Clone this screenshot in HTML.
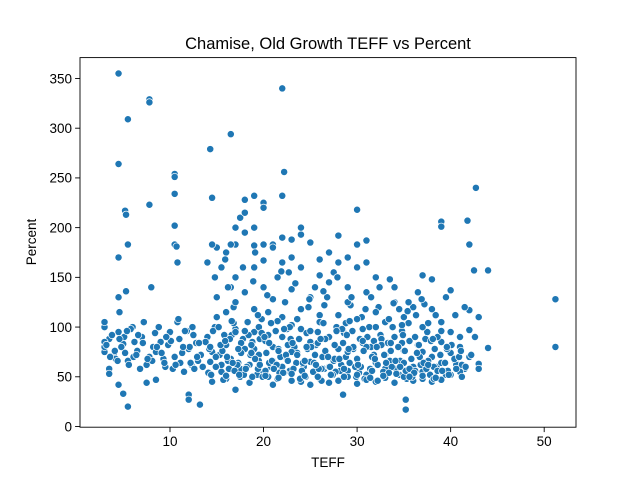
<!DOCTYPE html>
<html><head><meta charset="utf-8"><style>
body{margin:0;background:#fff;}
svg{display:block;font-family:"Liberation Sans","DejaVu Sans",sans-serif;}
</style></head><body>
<svg id="chart" width="640" height="480">
<rect x="0" y="0" width="640" height="480" fill="#fff"/>
<text x="328" y="49" font-size="16.5" text-anchor="middle">Chamise, Old Growth TEFF vs Percent</text>
<g id="marks"></g>
<g id="xticks"></g>
<g id="yticks"></g>
<rect x="80" y="57.6" width="496" height="369.6" fill="none" stroke="#000" stroke-width="0.9"/>
<text x="328" y="467" font-size="13.5" text-anchor="middle">TEFF</text>
<text x="0" y="0" font-size="13.5" text-anchor="middle" transform="translate(36,242) rotate(-90)">Percent</text>
</svg>
<script>
const teff = [
3,3.5,4,4.5,5,5.5,6,6.5,7,7.5,
3.8,4.2,4.8,5.2,5.8,6.2,6.8,7.2,7.8,8.2,
8.5,9,9.5,10,10.5,11,11.5,12,12.5,13,
8.8,9.3,9.8,10.3,10.8,11.3,11.8,12.3,12.8,13.3,
13.5,14,14.5,15,15.5,16,16.5,17,17.5,18,
13.8,14.3,14.8,15.3,15.8,16.3,16.8,17.3,17.8,18.3,
18.5,19,19.5,20,20.5,21,21.5,22,22.5,23,
18.8,19.3,19.8,20.3,20.8,21.3,21.8,22.3,22.8,23.3,
23.5,24,24.5,25,25.5,26,26.5,27,27.5,28,
23.8,24.3,24.8,25.3,25.8,26.3,26.8,27.3,27.8,28.3,
28.5,29,29.5,30,30.5,31,31.5,32,32.5,33,
28.8,29.3,29.8,30.3,30.8,31.3,31.8,32.3,32.8,33.3,
33.5,34,34.5,35,35.5,36,36.5,37,37.5,38,
33.8,34.3,34.8,35.3,35.8,36.3,36.8,37.3,37.8,38.3,
38.5,39,39.5,40,40.5,41,41.5,42,16.5,21.5,
14.5,15.5,16,17.5,18.5,19.5,20.5,21,22,23,
24,25,26,27,28,29,30,31,32,33,
34,35,36,37,38,39,40,41,25.5,26.5,
15,16,17,18,19,20,21,22,23,24,
25,26,27,28,29,30,31,32,33,34,
35,36,37,38,39,40,19.5,20.5,21.5,22.5,
15.6,16.6,17.6,18.6,19.6,20.6,21.6,22.6,23.6,24.6,
25.6,26.6,27.6,28.6,29.6,30.6,31.6,32.6,33.6,34.6,
35.6,36.6,37.6,38.6,39.6,40.6,18.2,20.2,22.2,24.2,
26.2,28.2,30.2,32.2,34.2,36.2,38.2,16.2,14.2,12.2,
17,19,21,23,25,27,29,31,33,35,
37,39,41,16.8,19.8,22.8,25.8,28.8,31.8,34.8,
4.5,7.8,7.8,22,5.5,16.5,14.3,4.5,10.5,10.5,
22.2,42.7,10.5,14.5,22,19,18,5.2,5.3,7.8,
10.5,17.5,20,20,30,41.8,39,39,5.5,10.5,
10.7,4.5,10.8,8,5.3,42,42.5,44,51.2,51.2,
35.2,35.2,28.5,13.2,12,12,5.5,5,4.5,7.5,
8.5,17,4.6,4.5,3,3,3,3,3,3.5,
3.5,37,38,40,37.2,42,43,42,42.6,44,
43,43,33.5,34,31,30,28,27,29,25,
24,24,23,22,21,20,19,17,16.5,15,
14.5,14,15.5,16,18,19,18,17,21,22,
26,28,30,31,32,29,26,24,23,20,
19,17,27.5,31.5,35.5,36.5,34.5,39.5,40.5,41.5,
14.1,14.9,15.7,16.4,17.2,17.9,18.7,19.4,20.2,20.9,
21.7,22.4,23.2,23.9,24.7,25.4,26.2,26.9,27.7,28.4,
29.2,29.9,30.7,31.4,32.2,32.9,33.7,34.4,35.2,35.9,
36.7,37.4,38.2,38.9,39.7,40.4,41.2,14.6,15.4,16.1,
16.9,17.6,18.4,19.1,19.9,20.6,21.4,22.1,22.9,23.6,
24.4,25.1,25.9,26.6,27.4,28.1,28.9,29.6,30.4,31.1,
31.9,32.6,33.4,34.1,34.9,35.6,36.4,37.1,37.9,38.6,
39.4,40.1,40.9,41.6,14.9,16.7,18.1,19.6,21.1,22.6,
24.1,25.6,27.1,28.6,30.1,31.6,33.1,34.6,36.1,37.6,
39.1,40.6,15.2,16.6,18.0,19.4,20.8,22.2,23.6,25.0,
26.4,27.8,29.2,30.6,32.0,33.4,34.8,36.2,37.6,39.0,
14.4,16.0,17.4,18.8,20.2,21.6,23.0,24.4,25.8,27.2,
28.6,30.0,31.4,32.8,34.2,35.6,37.0,38.4,39.8,41.2,
3.2,4.1,5.1,6.1,7.1,8.1,9.1,10.1,11.1,12.1,
3.6,4.6,5.6,6.6,7.6,8.6,9.6,10.6,11.6,12.6,
13.1,12.4,11.4,9.4,8.4,6.4,5.4,4.4,10.9,12.9,
14.8,16.2,17.8,18.9,20.4,21.9,23.4,24.9,26.4,27.9,
29.4,30.9,32.4,33.9,35.4,36.9,38.4,15.9,19.1,22.7,
14.3,15.9,17.3,18.7,20.1,21.6,23.1,24.6,26.1,27.6,
29.1,30.6,32.1,33.6,35.1,36.6,38.1,39.6,41.1,42.2
];
const percent = [
78,88,72,95,83,66,100,76,90,62,
92,68,80,74,98,85,58,105,70,80,
75,85,60,95,70,88,55,78,92,66,
100,68,82,58,105,74,96,62,84,72,
60,90,75,110,55,82,68,98,50,78,
85,65,100,72,92,58,120,64,88,105,
62,95,72,55,115,80,48,90,68,102,
85,52,108,74,60,96,70,125,56,80,
64,98,50,85,72,112,58,90,66,78,
88,60,120,55,95,70,130,52,100,62,
84,56,96,68,110,52,80,64,92,58,
70,122,60,88,48,100,72,120,55,84,
66,90,52,76,104,60,82,55,95,70,
100,58,84,48,68,112,62,88,52,78,
60,85,52,74,66,80,58,70,140,150,
45,62,48,58,44,66,50,42,60,46,
45,42,48,44,46,50,43,47,45,49,
44,50,46,48,45,47,52,55,140,122,
130,115,125,135,118,140,128,110,138,118,
130,105,145,112,125,108,135,115,105,125,
110,120,100,118,105,95,100,92,106,98,
76,92,84,72,88,64,78,82,74,94,
82,76,68,94,78,84,70,88,76,66,
86,74,66,90,78,62,60,56,54,64,
58,56,54,62,58,56,60,66,78,64,
95,78,66,75,65,60,75,80,72,64,
75,64,90,104,94,100,84,104,86,96,
355,329,326,340,309,294,279,264,254,251,
256,240,234,230,232,232,228,217,213,223,
202,210,225,220,218,207,206,201,183,183,
181,170,165,140,136,183,157,157,128,80,
27,17,32,22,32,27,20,33,42,44,
47,37,115,130,100,105,75,80,85,58,
53,152,148,137,123,117,110,97,90,79,
63,58,148,140,187,183,192,175,170,185,
193,200,188,190,183,183,182,183,183,180,
183,165,160,175,195,200,215,200,180,165,
168,165,160,165,150,140,152,160,170,167,
160,150,155,130,125,135,118,130,112,120,
54,70,47,88,62,52,74,58,86,66,
54,72,58,48,78,64,46,70,55,98,
64,50,76,58,46,72,60,80,56,50,
70,58,48,72,56,68,62,96,82,70,
56,74,92,68,50,84,62,54,88,72,
66,80,58,88,52,68,92,80,60,90,
68,82,54,66,92,58,74,64,86,56,
64,82,70,60,60,64,58,62,58,66,
56,62,60,58,62,56,64,60,54,62,
56,58,100,106,96,112,104,98,108,96,
104,96,106,98,100,108,102,90,104,96,
52,51,52,50,51,49,53,51,50,52,
50,52,49,51,53,50,51,49,52,50,
82,76,90,70,84,66,74,86,64,80,
70,88,62,92,68,80,90,62,96,58,
84,100,80,64,94,72,96,66,108,70,
150,140,160,146,132,156,144,128,136,150,
130,118,140,124,116,128,112,168,175,155,
80,86,78,82,90,76,84,80,88,82,
78,86,80,84,76,82,88,80,76,72
];
const xTickVals = [0,10,20,30,40,50];
const xTickLabels = ["0","10","20","30","40","50"];
const yTickVals = [0,50,100,150,200,250,300,350];
const yTickLabels = ["0","50","100","150","200","250","300","350"];

const NS = "http://www.w3.org/2000/svg";
const L=80,R=576,T=57.6,B=427.2;
const xMin=0.38,xMax=53.4,yMin=-0.7,yMax=371;
function xs(v){return L+(v-xMin)/(xMax-xMin)*(R-L);}
function ys(v){return B-(v-yMin)/(yMax-yMin)*(B-T);}

const marks=document.getElementById('marks');
for(let i=0;i<Math.min(teff.length,percent.length);i++){
  const c=document.createElementNS(NS,'circle');
  c.setAttribute('cx',xs(teff[i]).toFixed(2));
  c.setAttribute('cy',ys(percent[i]).toFixed(2));
  c.setAttribute('r','3.6');
  c.setAttribute('fill','#1f77b4');
  c.setAttribute('stroke','#fff');
  c.setAttribute('stroke-width','0.7');
  
  
  marks.appendChild(c);
}
const xg=document.getElementById('xticks');
xTickVals.forEach((v,i)=>{
  const x=xs(v); if(x<L-0.5||x>R+0.5) return;
  const ln=document.createElementNS(NS,'line');
  ln.setAttribute('x1',x);ln.setAttribute('x2',x);ln.setAttribute('y1',B);ln.setAttribute('y2',B+4.9);
  ln.setAttribute('stroke','#000');ln.setAttribute('stroke-width','0.9');
  
  
  xg.appendChild(ln);
  const t=document.createElementNS(NS,'text');
  t.setAttribute('x',x);t.setAttribute('y',B+19);t.setAttribute('font-size','13.5');t.setAttribute('text-anchor','middle');
  t.textContent=xTickLabels[i];
  
  
  xg.appendChild(t);
});
const yg=document.getElementById('yticks');
yTickVals.forEach((v,i)=>{
  const y=ys(v);
  const ln=document.createElementNS(NS,'line');
  ln.setAttribute('x1',L-4.9);ln.setAttribute('x2',L);ln.setAttribute('y1',y);ln.setAttribute('y2',y);
  ln.setAttribute('stroke','#000');ln.setAttribute('stroke-width','0.9');
  
  
  yg.appendChild(ln);
  const t=document.createElementNS(NS,'text');
  t.setAttribute('x',L-8);t.setAttribute('y',y+4.8);t.setAttribute('font-size','13.5');t.setAttribute('text-anchor','end');
  t.textContent=yTickLabels[i];
  
  
  yg.appendChild(t);
});
</script>
</body></html>
